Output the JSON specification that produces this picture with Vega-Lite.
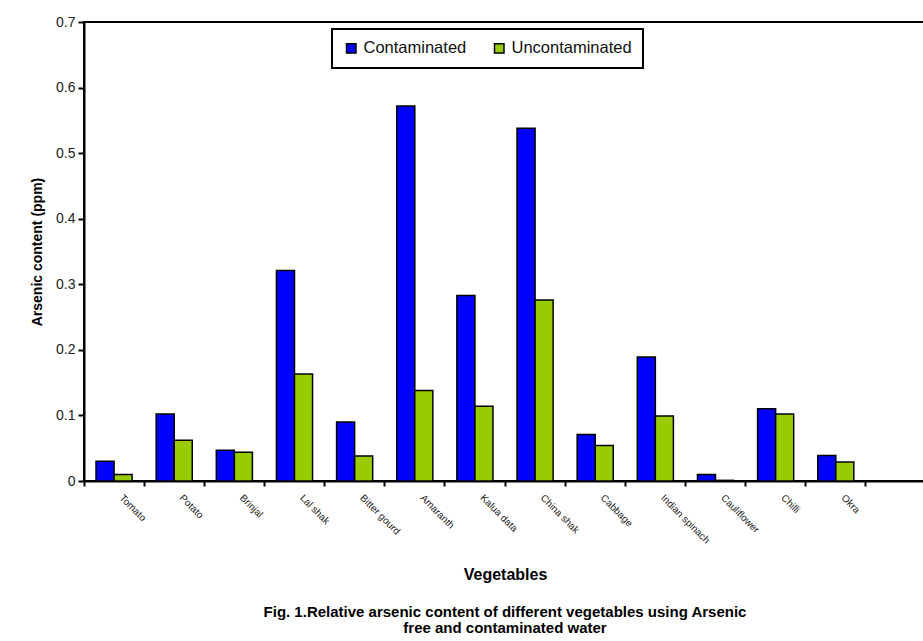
{
  "$schema": "https://vega.github.io/schema/vega-lite/v6.json",
  "autosize": "none",
  "width": 842,
  "height": 459,
  "padding": {"left": 84, "top": 22, "right": 0, "bottom": 160},
  "background": "white",
  "config": {
    "font": "Liberation Sans",
    "view": {"stroke": "black", "strokeWidth": 2}
  },
  "title": {
    "text": ["Fig. 1.Relative arsenic content of different vegetables using Arsenic", "free and contaminated water"],
    "orient": "bottom",
    "anchor": "middle",
    "fontSize": 15,
    "fontWeight": "bold",
    "color": "black",
    "offset": 23,
    "lineHeight": 16
  },
  "data": {
    "values": [
      {"veg": "Tomato", "type": "Contaminated", "value": 0.030},
      {"veg": "Tomato", "type": "Uncontaminated", "value": 0.010},
      {"veg": "Potato", "type": "Contaminated", "value": 0.102},
      {"veg": "Potato", "type": "Uncontaminated", "value": 0.062},
      {"veg": "Brinjal", "type": "Contaminated", "value": 0.047},
      {"veg": "Brinjal", "type": "Uncontaminated", "value": 0.044},
      {"veg": "Lal shak", "type": "Contaminated", "value": 0.321},
      {"veg": "Lal shak", "type": "Uncontaminated", "value": 0.163},
      {"veg": "Bitter gourd", "type": "Contaminated", "value": 0.090},
      {"veg": "Bitter gourd", "type": "Uncontaminated", "value": 0.038},
      {"veg": "Amaranth", "type": "Contaminated", "value": 0.572},
      {"veg": "Amaranth", "type": "Uncontaminated", "value": 0.138},
      {"veg": "Kalua data", "type": "Contaminated", "value": 0.283},
      {"veg": "Kalua data", "type": "Uncontaminated", "value": 0.114},
      {"veg": "China shak", "type": "Contaminated", "value": 0.538},
      {"veg": "China shak", "type": "Uncontaminated", "value": 0.276},
      {"veg": "Cabbage", "type": "Contaminated", "value": 0.071},
      {"veg": "Cabbage", "type": "Uncontaminated", "value": 0.054},
      {"veg": "Indian spinach", "type": "Contaminated", "value": 0.189},
      {"veg": "Indian spinach", "type": "Uncontaminated", "value": 0.099},
      {"veg": "Cauliflower", "type": "Contaminated", "value": 0.010},
      {"veg": "Cauliflower", "type": "Uncontaminated", "value": 0.001},
      {"veg": "Chilli", "type": "Contaminated", "value": 0.110},
      {"veg": "Chilli", "type": "Uncontaminated", "value": 0.102},
      {"veg": "Okra", "type": "Contaminated", "value": 0.039},
      {"veg": "Okra", "type": "Uncontaminated", "value": 0.029}
    ]
  },
  "mark": {"type": "bar", "stroke": "black", "strokeWidth": 1.5},
  "encoding": {
    "x": {
      "field": "veg",
      "type": "nominal",
      "sort": null,
      "scale": {
        "domain": ["Tomato", "Potato", "Brinjal", "Lal shak", "Bitter gourd", "Amaranth", "Kalua data", "China shak", "Cabbage", "Indian spinach", "Cauliflower", "Chilli", "Okra", " "],
        "paddingInner": 0.4,
        "paddingOuter": 0.2
      },
      "axis": {
        "title": "Vegetables",
        "titleFontSize": 16,
        "titleFontWeight": "bold",
        "titleColor": "black",
        "titlePadding": 21,
        "labelAngle": 45,
        "labelAlign": "left",
        "labelBaseline": "middle",
        "labelFontSize": 10,
        "labelColor": "#222",
        "labelPadding": 10,
        "bandPosition": -0.3333,
        "labelOffset": 7,
        "tickColor": "black",
        "tickWidth": 2,
        "tickSize": 5,
        "domainColor": "black",
        "domainWidth": 2,
        "grid": false
      }
    },
    "xOffset": {
      "field": "type",
      "type": "nominal",
      "scale": {"domain": ["Contaminated", "Uncontaminated"], "paddingInner": 0, "paddingOuter": 0}
    },
    "y": {
      "field": "value",
      "type": "quantitative",
      "scale": {"domain": [0, 0.7], "nice": false, "zero": true},
      "axis": {
        "title": "Arsenic content (ppm)",
        "titleFontSize": 14,
        "titleFontWeight": "bold",
        "titleColor": "black",
        "titlePadding": 11,
        "values": [0, 0.1, 0.2, 0.3, 0.4, 0.5, 0.6, 0.7],
        "format": "~g",
        "labelFontSize": 14,
        "labelColor": "#222",
        "labelPadding": 3,
        "tickColor": "black",
        "tickWidth": 2,
        "tickSize": 6,
        "domainColor": "black",
        "domainWidth": 2,
        "grid": false
      }
    },
    "color": {
      "field": "type",
      "type": "nominal",
      "scale": {"domain": ["Contaminated", "Uncontaminated"], "range": ["#0000FF", "#99CC00"]},
      "legend": {
        "title": null,
        "orient": "none",
        "legendX": 248,
        "legendY": 7,
        "direction": "horizontal",
        "strokeColor": "black",
        "fillColor": "white",
        "padding": 11,
        "symbolType": "square",
        "symbolSize": 90,
        "symbolStrokeColor": "black",
        "symbolStrokeWidth": 1.5,
        "labelFontSize": 16.5,
        "labelColor": "#111",
        "labelOffset": 4,
        "columnPadding": 24,
        "encode": {"legend": {"update": {"strokeWidth": {"value": 2}}}}
      }
    }
  }
}
